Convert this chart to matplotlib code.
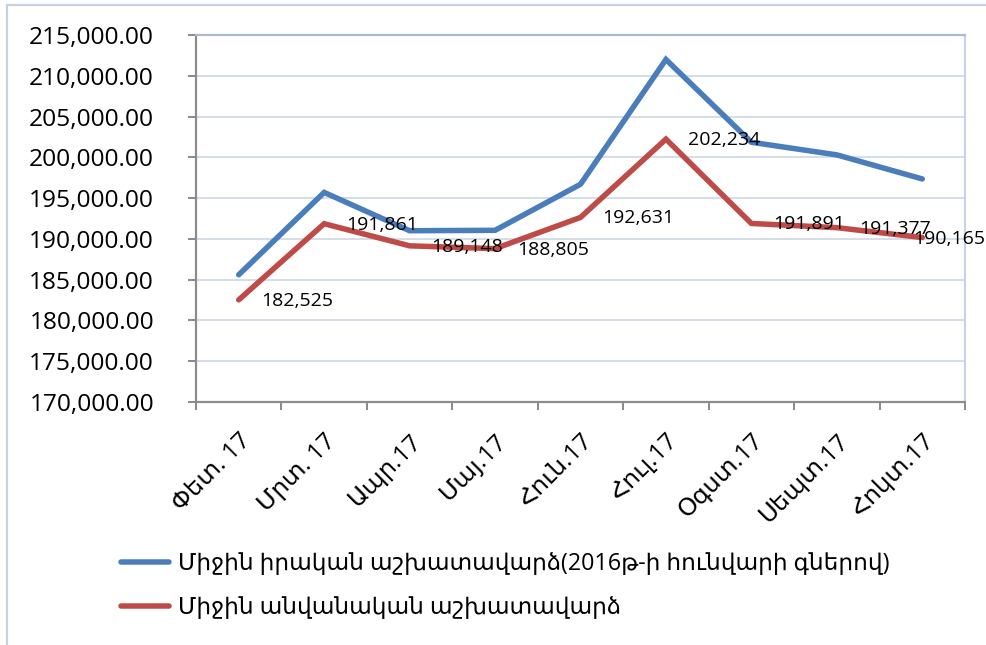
import matplotlib
matplotlib.use("Agg")
import matplotlib.pyplot as plt
from matplotlib.patches import Rectangle
from matplotlib.lines import Line2D
from matplotlib.ticker import FuncFormatter, MultipleLocator, FixedLocator

categories = ["Փետ. 17", "Մրտ. 17", "Ապր.17", "Մայ.17", "Հուն.17", "Հուլ.17",
              "Օգստ.17", "Սեպտ.17", "Հոկտ.17"]
real_wage = [185600, 195700, 191000, 191050, 196700, 212000, 201850, 200300, 197350]
nominal_wage = [182525, 191861, 189148, 188805, 192631, 202234, 191891, 191377, 190165]
series_names = ["Միջին իրական աշխատավարձ(2016թ-ի հունվարի գներով)",
                "Միջին անվանական աշխատավարձ"]

BLUE = "#4A7EBB"
RED = "#BE4B48"
GRID = "#D5DEE8"
AXIS = "#8C8C8C"
BORDER = "#C5D1DF"
FAM = ["Open Sans", "DejaVu Sans"]

W, H, DPI = 987, 645, 100
fig = plt.figure(figsize=(W / DPI, H / DPI), dpi=DPI)
plt.rcParams['font.family'] = FAM

def px(v):
    return v * 72.0 / DPI

# outer chart border
fig.patches.append(Rectangle((7 / W, -0.2), 1.5, 1.2 - 5 / H, transform=fig.transFigure,
                             fill=False, edgecolor=BORDER, linewidth=px(2.2)))

ax = fig.add_axes([196 / W, 1 - 402 / H, (965 - 196) / W, (402 - 35) / H])
x = list(range(len(categories)))

ax.plot(x, real_wage, color=BLUE, linewidth=px(5.5), solid_capstyle='round',
        solid_joinstyle='miter', zorder=3)
ax.plot(x, nominal_wage, color=RED, linewidth=px(5.5), solid_capstyle='round',
        solid_joinstyle='miter', zorder=3)

ax.set_xlim(-0.5, len(categories) - 0.5)
ax.set_ylim(170000, 215000)
ax.yaxis.set_major_locator(MultipleLocator(5000))
ax.yaxis.set_major_formatter(FuncFormatter(lambda v, p: f"{v:,.2f}"))
ax.grid(axis='y', color=GRID, linewidth=px(2))
ax.set_axisbelow(True)

ax.set_xticks(x)
ax.set_xticklabels(categories, rotation=45, ha='right', va='top', rotation_mode='anchor',
                   fontsize=px(24.5), family=FAM)
ax.xaxis.set_minor_locator(FixedLocator([i - 0.5 for i in range(len(categories) + 1)]))
ax.tick_params(axis='x', which='major', length=0, pad=px(27))
ax.tick_params(axis='x', which='minor', length=px(8), width=px(2), color=AXIS, direction='out')
ax.tick_params(axis='y', which='major', length=px(8), width=px(2), color=AXIS,
               labelsize=px(24.5), pad=px(34))
for lab in ax.get_yticklabels():
    lab.set_horizontalalignment('right')

for s in ['left', 'bottom']:
    ax.spines[s].set_color(AXIS)
    ax.spines[s].set_linewidth(px(2.2))
ax.spines['top'].set_color("#AABBD0")
ax.spines['top'].set_linewidth(px(2.2))
ax.spines['right'].set_color("#C8D4E2")
ax.spines['right'].set_linewidth(px(2.2))

labels = []
for i, v in enumerate(nominal_wage):
    t = ax.annotate(f"{v:,}", (i, v), xytext=(px(22), px(-1)), textcoords='offset points',
                    ha='left', va='center', fontsize=px(19.5), color='black', zorder=4)
    labels.append(t)

# legend
handles = [Line2D([], [], color=BLUE, linewidth=px(5.5), solid_capstyle='round'),
           Line2D([], [], color=RED, linewidth=px(5.5), solid_capstyle='round')]
fs = 23.3
leg = fig.legend(handles, series_names, loc='upper left',
                 bbox_to_anchor=(121 / W, 1 - 552 / H), frameon=False,
                 handlelength=48 / fs, handletextpad=9 / fs,
                 labelspacing=(48 - fs * 1.2) / fs, borderpad=0, borderaxespad=0,
                 prop={'family': FAM, 'size': px(fs)})

# keep data labels inside the chart area
fig.canvas.draw()
r = fig.canvas.get_renderer()
for t in labels:
    bb = t.get_window_extent(r)
    if bb.x1 > W - 2:
        dx = bb.x1 - (W - 2)
        ox, oy = t.xyann
        t.xyann = (ox - px(dx), oy)

fig.savefig("out.png", dpi=DPI)
